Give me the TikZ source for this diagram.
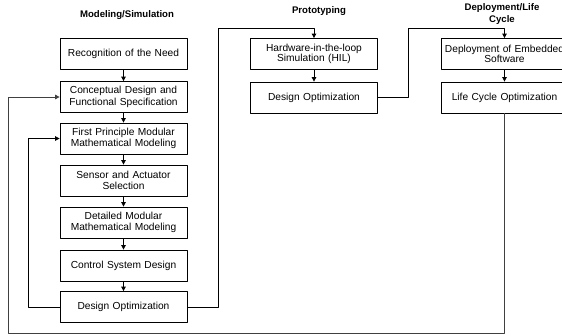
\documentclass[tikz,border=0pt]{standalone}
\usepackage{fontspec}
\setmainfont{Liberation Sans}
\usetikzlibrary{arrows.meta}
\tikzset{
	blok/.style={draw, rectangle, line width=.8pt, minimum width=127pt, minimum height=31pt, text width=124pt, inner sep=1pt, align=center, font=\fontsize{10.2}{11.5}\selectfont},
	tight/.style={font=\fontsize{10.2}{8}\selectfont},
	titel/.style={align=center, inner sep=1pt, font=\fontsize{9.6}{11.5}\selectfont\bfseries},
	lijn/.style={line width=.8pt},
	terug/.style={line width=1pt, draw=black!75}
}
\begin{document}
\begin{tikzpicture}[x=1pt, y=-1pt, >={Triangle[length=4.5pt,width=4.5pt]}, line join=round]
		\useasboundingbox (0,0) rectangle (562,335);
		\clip (0,0) rectangle (562,335);
		% titels
		\node[titel] (tm) at (127,15) {Modeling/Simulation};
		\node[titel] (tp) at (319,11) {Prototyping};
		\node[titel] (td) at (502,14) {Deployment/Life\\Cycle};
		% modeling/simulation
		\node[blok] (need) at (123.5,54) {Recognition of the Need};
		\node[blok] (concept) at (123.5,97) {Conceptual Design and\\Functional Specification};
		\node[blok] (first) at (123.5,138.5) {First Principle Modular\\Mathematical Modeling};
		\node[blok] (sensor) at (123.5,180.5) {Sensor and Actuator\\Selection};
		\node[blok] (detail) at (123.5,222.5) {Detailed Modular\\Mathematical Modeling};
		\node[blok] (control) at (123.5,265.5) {Control System Design};
		\node[blok] (optA) at (123.5,307) {Design Optimization};
		% prototyping
		\node[blok,tight] (hil) at (314,54) {Hardware-in-the-loop\\Simulation (HIL)};
		\node[blok] (optB) at (314,97.5) {Design Optimization};
		% deployment
		\node[blok,tight] (embed) at (504.5,54) {Deployment of Embedded\\Software};
		\node[blok] (life) at (504.5,97.5) {Life Cycle Optimization};
		\foreach \a/\b in {need/concept,concept/first,first/sensor,sensor/detail,detail/control,control/optA,hil/optB,embed/life}
			\draw[lijn,->] (\a) -- (\b);
		\coordinate (topA) at (218,28);
		\coordinate (topB) at (408,28);
		\coordinate (bodem) at (8,333);
		\draw[lijn,->] (optA.east) -| (topA) -| (hil.north);
		\draw[lijn,->] (optB.east) -| (topB) -| (embed.north);
		\draw[lijn,->] (optA.west) -- ++(-31,0) |- (first.west);
		\draw[terug,->] (life.south) |- (bodem) |- (concept.west);
\end{tikzpicture}
\end{document}
